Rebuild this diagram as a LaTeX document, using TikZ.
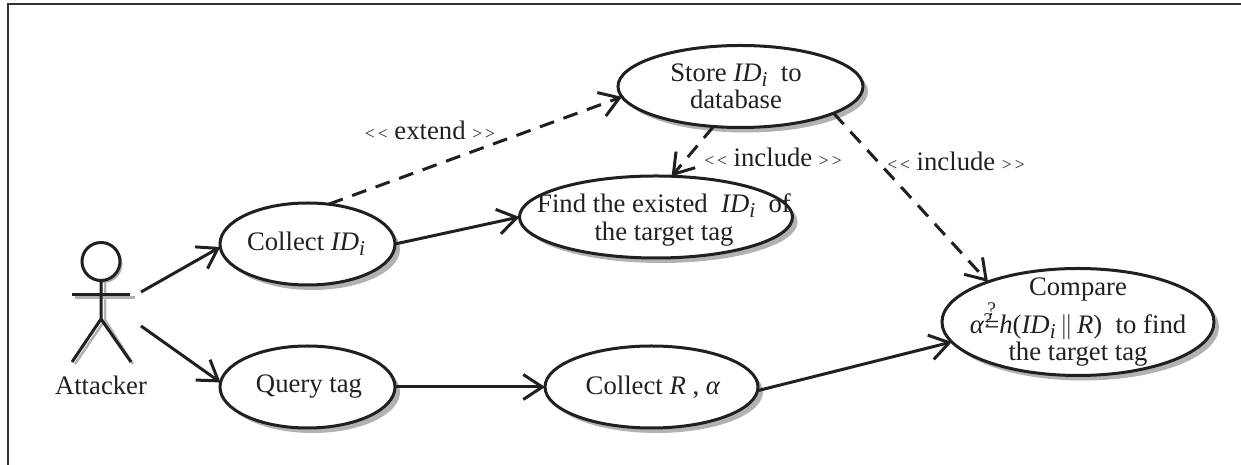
\documentclass[tikz,border=0pt]{standalone}
\usepackage{fontspec}
\setmainfont{Liberation Serif}
\usetikzlibrary{shapes,arrows.meta,positioning,calc,shadows}
\definecolor{inkline}{HTML}{231F20}
\newcommand{\IDi}{\textit{ID}\raisebox{-0.4ex}{\fontsize{12}{12}\selectfont\textit{i}}}
\newcommand{\stereo}[1]{{\fontsize{10}{10}\selectfont{<}\,{<}}\ #1\ {\fontsize{10}{10}\selectfont{>}\,{>}}}
\newcommand{\qqeq}{\makebox[0pt][l]{\raisebox{1.45ex}{\hspace{0.12em}\fontsize{11}{11}\selectfont ?}}\makebox[0pt][l]{\raisebox{0.55ex}{\hspace{-0.02em}\fontsize{11}{11}\selectfont ?}}=}
\tikzset{
  >={Straight Barb[length=0.38cm,width=0.5cm]},
  usecase/.style={ellipse,draw=inkline,line width=0.06cm,fill=white,inner sep=0pt,outer sep=0pt,minimum height=1.64cm,
    drop shadow={shadow xshift=0.1cm,shadow yshift=-0.1cm,fill=gray!60,opacity=1}},
  usetext/.style={align=center,inner sep=0pt,text=inkline,font=\fontsize{15.2}{15.4}\selectfont},
  uses/.style={->,draw=inkline,line width=0.06cm},
  stereotype/.style={uses,dash pattern=on 0.3cm off 0.2cm},
  stick/.style={draw=inkline,line width=0.06cm},
  stickshadow/.style={draw=gray!60,line width=0.05cm}
}
\begin{document}
\begin{tikzpicture}
\useasboundingbox (0,0) rectangle (24.82,9.3);
% frame
\draw[line width=0.04cm,draw=black!80] (0.16,0) -- (0.16,9.22) -- (24.82,9.22);
% attacker
\draw[stickshadow] (1.5,3.35) -- (2.7,3.35);
\draw[stickshadow] (2.1,3.95) -- (2.1,2.9) -- (1.5,2.02);
\draw[stickshadow] (2.1,2.9) -- (2.66,2.02);
\node[circle,draw=inkline,line width=0.06cm,minimum size=0.76cm,inner sep=0pt,outer sep=0pt,
  drop shadow={shadow xshift=0.05cm,shadow yshift=-0.05cm,fill=gray!60,opacity=1},fill=white] (head) at (2.02,4.07) {};
\coordinate (hip) at (2.02,2.92);
\draw[stick] (1.44,3.41) -- (2.6,3.41);
\draw[stick] (head) -- (hip) -- (1.44,2.06);
\draw[stick] (hip) -- (2.62,2.06);
\node[usetext] (attacker) at (2.02,1.6) {Attacker};
\coordinate (armend) at (2.82,3.46);
\coordinate (hipend) at (2.82,2.78);
% use cases
\node[usecase,minimum width=3.5cm] (collect) at (6.15,4.42) {};
\node[usecase,minimum width=3.5cm] (query) at (6.15,1.56) {};
\node[usecase,minimum width=4.9cm] (store) at (14.81,7.57) {};
\node[usecase,minimum width=5.46cm] (find) at (13.12,4.96) {};
\node[usecase,minimum width=4.26cm] (collectr) at (13.03,1.56) {};
\node[usecase,minimum width=5.44cm,minimum height=2.14cm] (compare) at (21.56,2.86) {};
\node[usetext] (collecttext) at (6.12,4.42) {Collect \IDi};
\node[usetext] (querytext) at (6.18,1.56) {Query tag};
\node[usetext] (storetext) at (14.72,7.58) {Store \IDi\ \ to\\database};
\node[usetext] (findtext) at (13.28,4.9) {Find the existed \ \IDi\ \ of\\the target tag};
\node[usetext] (collectrtext) at (13.06,1.56) {Collect \textit{R} , \textit{α}};
\node[usetext] (comparetext) at (21.56,2.86) {Compare\\\textit{α}\qqeq\textit{h}(\IDi\,$\|$\,\textit{R})\ \ to find\\the target tag};
% connectors
\draw[uses] (armend) -- (collect.182);
\draw[uses] (hipend) -- (query.177.5);
\draw[uses] (collect.0) -- (find.180);
\draw[uses] (query.0) -- (collectr.180);
\draw[uses] (collectr.358) -- (compare.189);
\draw[stereotype] (collect.62) -- (store.185.5);
\draw[stereotype] (store.236.5) -- (find.69.6);
\draw[stereotype] (store.344.8) -- (compare.156.5);
% labels
\node[usetext] (extendlabel) at (8.6,6.7) {\stereo{extend}};
\node[usetext] (includelabela) at (15.46,6.16) {\stereo{include}};
\node[usetext] (includelabelb) at (19.12,6.08) {\stereo{include}};
\end{tikzpicture}
\end{document}
